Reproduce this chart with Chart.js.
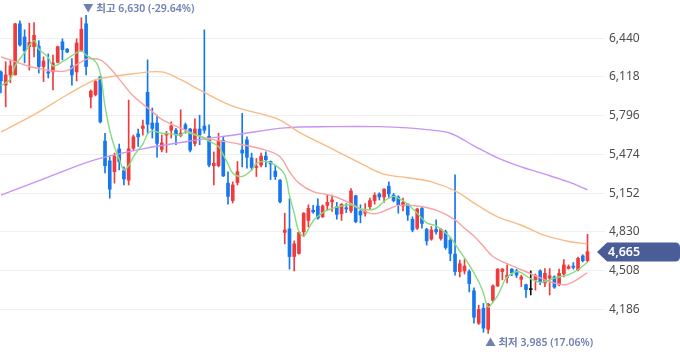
<!DOCTYPE html>
<html>
<head>
<meta charset="utf-8">
<script src="https://cdn.jsdelivr.net/npm/chart.js@4.4.1/dist/chart.umd.min.js"></script>
<style>
	html, body { margin: 0; padding: 0; background: #fff; }
	#wrap { width: 680px; height: 358px; }
</style>
</head>
<body>
<div id="wrap"><canvas id="priceChart" width="680" height="358"></canvas></div>
<script>
// daily candles, oldest first
var opens  = [6160,6050,6135,6135,6560,6450,6370,6370,6375,6205, 6160,6160,6240,6410,6350,6210,6160,6335,6560,5950,
              5970,6120,5585,5420,5330,5520,5340,5260,5525,5645, 5690,5990,5735,5735,5515,5635,5675,5675,5630,5720,
              5685,5565,5685,5710,5625,5380,5380,5590,5235,5090, 5240,5510,5595,5445,5365,5385,5460,5415,5335,5260,
              4825,4855,4625,4650,4830,4925,5010,5045,4955,5050, 5080,5040,4980,5030,5005,5130,5000,4985,5040,5090,
              5145,5120,5210,5135,5120,5045,5060,4935,4860,5025, 4850,4770,4850,4775,4830,4760,4645,4500,4505,4500,
              4340,4070,4195,4020,4260,4380,4500,4450,4520,4505, 4435,4390,4350,4430,4505,4405,4445,4455,4390,4480,
              4525,4545,4515,4630,4590];
var highs  = [6170,6245,6255,6565,6585,6510,6565,6570,6420,6285, 6310,6300,6375,6435,6355,6270,6435,6610,6630,6010,
              6090,6125,5650,5455,5485,5560,5370,5925,5635,5685, 5760,6260,5860,5800,5635,5665,5745,5690,5845,5735,
              5690,5770,5800,6510,5720,5495,5650,5620,5330,5245, 5415,5815,5620,5485,5440,5485,5495,5420,5385,5265,
              4985,5105,4755,4830,4990,5055,5050,5105,5055,5135, 5135,5075,5065,5065,5190,5135,5055,5065,5110,5155,
              5155,5190,5245,5150,5130,5110,5065,4955,5025,5035, 4860,4875,4930,4860,4845,4780,5305,4595,4600,4515,
              4365,4220,4235,4235,4390,4525,4525,4555,4525,4520, 4470,4395,4505,4480,4515,4525,4525,4465,4520,4600,
              4555,4575,4620,4640,4810];
var lows   = [5985,5870,6070,6135,6375,6235,6175,6285,6150,6080, 6110,6010,6235,6260,6320,6050,6085,6330,6135,5860,
              5960,5735,5320,5110,5235,5345,5220,5220,5510,5540, 5635,5650,5610,5450,5495,5490,5610,5555,5620,5650,
              5495,5545,5555,5650,5370,5220,5370,5290,5060,5070, 5220,5370,5360,5345,5290,5370,5370,5265,5265,5070,
              4730,4520,4505,4645,4790,4870,4985,4935,4950,5010, 5000,4935,4925,4990,4990,4905,4905,4960,5020,5060,
              5095,5075,5110,5080,4985,5005,4925,4830,4850,4860, 4720,4760,4810,4760,4685,4590,4470,4455,4480,4330,
              4070,4060,3995,3985,4250,4375,4430,4405,4465,4450, 4375,4285,4305,4345,4390,4375,4305,4360,4380,4455,
              4520,4520,4505,4580,4580];
var closes = [6085,6135,6210,6560,6385,6335,6405,6465,6205,6250, 6150,6235,6370,6345,6325,6135,6400,6515,6205,6000,
              6080,5745,5380,5185,5460,5415,5270,5520,5620,5620, 5710,5725,5690,5565,5570,5645,5710,5635,5650,5685,
              5510,5685,5635,5675,5385,5400,5590,5295,5125,5220, 5330,5485,5450,5365,5370,5460,5430,5395,5290,5080,
              4845,4625,4730,4825,4985,5025,4995,4945,5045,5075, 5095,4975,5060,5020,5170,4915,4970,5000,5090,5135,
              5120,5185,5145,5090,5055,5075,4970,4845,5020,4900, 4755,4845,4830,4850,4700,4650,4500,4565,4545,4400,
              4120,4185,4030,4230,4380,4520,4520,4470,4490,4470, 4455,4350,4350,4465,4415,4485,4465,4370,4485,4555,
              4540,4535,4610,4590,4665];

// moving averages (day index -> price)
var ma5Days = [0,2,3,5,7,8,10,11,13,15,17,18,20,21,22,23,24,25,26,27,28,29,30,31,32,34,36,38,39,41,
               42,44,46,47,48,49,51,53,54,56,58,60,61,62,63,64,65,66,67,69,72,74,76,79,81,82,83,84,86,88,
               90,92,94,95,97,99,101,102,103,104,105,106,107,109,110,112,114,116,117,119,120,122,124];
var ma5Values = [6045,6100,6210,6320,6420,6350,6280,6210,6245,6295,6335,6300,6245,6150,5875,5675,5535,5435,5345,5380,
                 5455,5510,5560,5645,5670,5650,5645,5635,5660,5635,5625,5585,5540,5470,5395,5320,5290,5345,5400,5415,
                 5385,5305,5130,4985,4830,4795,4855,4920,4960,5010,5045,5055,5020,5020,5085,5110,5125,5110,5060,4985,
                 4905,4880,4820,4785,4670,4555,4415,4320,4205,4245,4300,4385,4455,4500,4490,4440,4410,4430,4445,4465,
                 4475,4515,4580];
var ma20Days = [0,3,6,9,12,14,16,18,19,21,23,25,28,32,34,37,42,45,49,56,59,61,63,66,70,74,77,79,82,84,
                88,92,96,98,100,102,104,107,110,113,116,119,121,124];
var ma20Values = [6285,6245,6205,6180,6165,6170,6220,6265,6270,6260,6195,6100,5960,5830,5765,5710,5625,5595,5570,5510,
                  5455,5330,5235,5165,5130,5065,5000,4980,5020,5050,5045,5010,4930,4860,4795,4710,4625,4565,4515,4465,
                  4415,4390,4415,4490];
var ma60Days = [0,7,14,19,21,28,34,38,42,49,56,59,63,70,77,81,86,91,96,101,105,110,115,120,124];
var ma60Values = [5660,5805,5970,6080,6105,6145,6160,6095,6010,5875,5800,5760,5660,5520,5380,5310,5280,5245,5170,5045,
                  4955,4885,4800,4750,4730];
var ma120Days = [0,10,20,30,40,50,60,70,80,86,90,95,100,105,110,115,120,124];
var ma120Values = [5135,5285,5430,5520,5585,5640,5695,5705,5705,5695,5680,5650,5545,5445,5370,5310,5245,5180];

var priceTicks = [6440, 6118, 5796, 5474, 5152, 4830, 4508, 4186];

var UP = '#ef3b3b', DOWN = '#1677ee', FLAT = '#111111';

function fmt(v) { return Math.round(v).toLocaleString('en-US'); }

function pairs(days, vals) {
	return days.map(function(d, k){ return {x: d, y: vals[k]}; });
}

var candleColors = closes.map(function(c, i){
	if (c > opens[i]) return UP;
	if (c < opens[i]) return DOWN;
	return FLAT;
});

var wickData = lows.map(function(l, i){ return {x: i, y: [l, highs[i]]}; });
var bodyData = opens.map(function(o, i){ return {x: i, y: [o, closes[i]]}; });

function maLine(label, days, vals, color) {
	return {
		type: 'line',
		label: label,
		data: pairs(days, vals),
		borderColor: color,
		borderWidth: 1.4,
		pointRadius: 0,
		tension: 0.35,
		fill: false,
		order: 0
	};
}

var markers = {
	id: 'markers',
	afterDraw: function(chart) {
		var ctx = chart.ctx, xs = chart.scales.x, ys = chart.scales.y;
		var last = closes[closes.length - 1];
		var hi = Math.max.apply(null, highs), lo = Math.min.apply(null, lows);
		var hiIdx = highs.indexOf(hi), loIdx = lows.indexOf(lo);
		var pct = function(ref){ return ((last - ref) / ref * 100).toFixed(2) + '%'; };

		ctx.save();
		ctx.font = '600 10.5px "Noto Sans", "Noto Sans CJK KR", sans-serif';
		ctx.fillStyle = '#6f80b4';
		ctx.textBaseline = 'middle';
		ctx.textAlign = 'left';
		ctx.fillText('▼ 최고 ' + fmt(hi) + ' (' + pct(hi) + ')', xs.getPixelForValue(hiIdx) - 3, ys.getPixelForValue(hi) - 6);
		ctx.fillText('▲ 최저 ' + fmt(lo) + ' (' + pct(lo) + ')', xs.getPixelForValue(loIdx) - 3, ys.getPixelForValue(lo) + 10);

		// current price tag
		var cy = Math.round(ys.getPixelForValue(last));
		var left = chart.chartArea.right - 8, h = 19, r = 5, right = chart.width;
		ctx.fillStyle = '#4b5d97';
		ctx.beginPath();
		ctx.moveTo(left, cy);
		ctx.lineTo(left + 10, cy - h / 2);
		ctx.lineTo(right - r, cy - h / 2);
		ctx.quadraticCurveTo(right, cy - h / 2, right, cy - h / 2 + r);
		ctx.lineTo(right, cy + h / 2 - r);
		ctx.quadraticCurveTo(right, cy + h / 2, right - r, cy + h / 2);
		ctx.lineTo(left + 10, cy + h / 2);
		ctx.closePath();
		ctx.fill();
		ctx.fillStyle = '#ffffff';
		ctx.font = '600 12.5px "Noto Sans", sans-serif';
		ctx.fillText(fmt(last), chart.chartArea.right + 3, cy + 0.5);
		ctx.restore();
	}
};

new Chart('priceChart', {
	type: 'bar',
	data: {
		datasets: [
			maLine('MA5', ma5Days, ma5Values, '#86dc7f'),
			maLine('MA20', ma20Days, ma20Values, '#f7a3a3'),
			maLine('MA60', ma60Days, ma60Values, '#f9bb85'),
			maLine('MA120', ma120Days, ma120Values, '#c794f5'),
			{
				label: 'wick',
				data: wickData,
				backgroundColor: candleColors,
				barThickness: 1,
				grouped: false,
				order: 2
			},
			{
				label: 'body',
				data: bodyData,
				backgroundColor: candleColors,
				barThickness: 3,
				minBarLength: 1,
				grouped: false,
				order: 1
			}
		]
	},
	options: {
		responsive: false,
		animation: false,
		devicePixelRatio: 1,
		layout: { padding: 0, autoPadding: false },
		plugins: {
			legend: { display: false },
			tooltip: { enabled: false }
		},
		scales: {
			x: {
				type: 'linear',
				display: false,
				offset: false,
				min: -0.2,
				max: 127.7,
				grid: { display: false }
			},
			y: {
				position: 'right',
				min: 3781,
				max: 6758,
				border: { display: false },
				grid: { color: '#f0f0f0', drawTicks: false },
				ticks: {
					padding: 4,
					color: '#4d4d4d',
					font: { family: '"Noto Sans", sans-serif', size: 12 },
					callback: function(v){ return fmt(v); }
				},
				afterBuildTicks: function(scale){
					scale.ticks = priceTicks.map(function(v){ return {value: v}; });
				},
				afterFit: function(scale){
					scale.width = 75;
					scale.paddingTop = 0;
					scale.paddingBottom = 0;
				}
			}
		}
	},
	plugins: [markers]
});
</script>
</body>
</html>
